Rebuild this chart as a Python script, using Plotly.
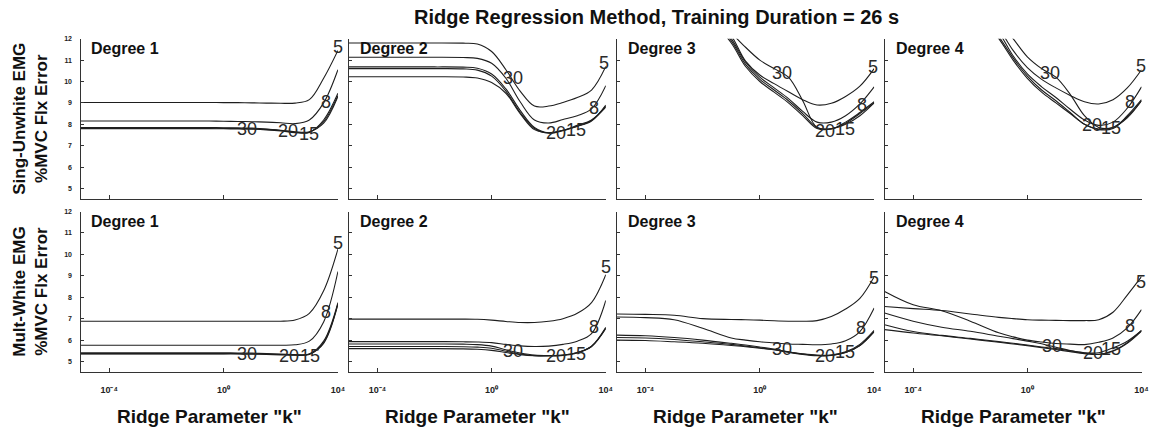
import plotly.graph_objects as go

# Ridge parameter grid (log10 k) shared by every curve
K_EXP = [-5, -4, -3, -2, -1, -0.5, 0, 0.5, 1, 1.5, 2, 2.5, 3, 3.5, 4]
K_TICKS = [1e-4, 1, 1e4]
K_TICK_TEXT = ["10\u207b\u2074", "10\u2070", "10\u2074"]
SERIES = ["5", "8", "15", "20", "30"]
DEGREES = [1, 2, 3, 4]

# %MVC flexion error, single-site unwhitened EMG
SU_DEG1 = {
    "5":  [9.02, 9.02, 9.02, 9.02, 9.02, 9.02, 9.01, 9.01, 9.0, 8.99, 8.98, 8.99, 9.15, 10.15, 11.45],
    "8":  [8.15, 8.15, 8.15, 8.15, 8.15, 8.15, 8.14, 8.13, 8.12, 8.1, 8.07, 8.03, 8.2, 9.0, 10.55],
    "15": [7.79, 7.79, 7.79, 7.79, 7.79, 7.79, 7.79, 7.78, 7.77, 7.74, 7.69, 7.61, 7.62, 8.2, 9.45],
    "20": [7.81, 7.81, 7.81, 7.81, 7.81, 7.81, 7.81, 7.8, 7.79, 7.76, 7.71, 7.63, 7.63, 8.12, 9.35],
    "30": [7.85, 7.85, 7.85, 7.85, 7.85, 7.85, 7.84, 7.83, 7.82, 7.78, 7.72, 7.65, 7.65, 8.05, 9.3],
}
SU_DEG2 = {
    "5":  [11.8, 11.8, 11.8, 11.8, 11.79, 11.75, 11.4, 10.55, 9.55, 8.85, 8.85, 9.02, 9.25, 9.6, 10.7],
    "8":  [11.13, 11.13, 11.13, 11.13, 11.12, 11.08, 10.85, 10.15, 9.05, 8.2, 8.06, 8.22, 8.4, 8.72, 9.8],
    "15": [10.68, 10.68, 10.68, 10.68, 10.67, 10.62, 10.35, 9.65, 8.65, 7.85, 7.6, 7.72, 7.95, 8.2, 8.85],
    "20": [10.6, 10.6, 10.6, 10.6, 10.59, 10.53, 10.25, 9.55, 8.55, 7.8, 7.58, 7.7, 7.92, 8.18, 8.8],
    "30": [10.22, 10.22, 10.22, 10.22, 10.21, 10.16, 9.95, 9.45, 8.5, 7.75, 7.6, 7.72, 7.9, 8.15, 8.9],
}
SU_DEG3 = {
    "5":  [19.3, 17.5, 15.7, 13.9, 12.15, 10.95, 10.3, 9.9, 9.52, 9.15, 8.9, 8.98, 9.3, 9.78, 10.6],
    "8":  [19.0, 17.2, 15.4, 13.7, 12.0, 10.9, 10.2, 9.7, 9.2, 8.6, 8.1, 8.1, 8.4, 8.95, 9.75],
    "15": [18.6, 16.8, 15.0, 13.4, 11.8, 10.7, 10.0, 9.5, 9.0, 8.4, 7.8, 7.78, 8.1, 8.55, 9.05],
    "20": [18.8, 17.0, 15.2, 13.5, 11.9, 10.8, 10.1, 9.6, 9.1, 8.5, 7.85, 7.78, 8.05, 8.5, 9.0],
    "30": [19.8, 18.0, 16.2, 14.3, 12.3, 11.6, 11.0, 10.6, 10.2, 9.1, 7.85, 7.8, 8.0, 8.4, 9.0],
}
SU_DEG4 = {
    "5":  [19.8, 17.9, 16.1, 14.3, 12.5, 11.45, 10.65, 10.1, 9.7, 9.35, 9.05, 8.95, 9.15, 9.7, 10.55],
    "8":  [19.5, 17.6, 15.8, 14.0, 12.3, 11.2, 10.35, 9.75, 9.25, 8.7, 8.2, 7.95, 8.1, 8.75, 9.75],
    "15": [19.1, 17.2, 15.4, 13.7, 12.0, 11.0, 10.15, 9.5, 9.0, 8.5, 8.0, 7.75, 7.8, 8.4, 9.15],
    "20": [19.3, 17.4, 15.6, 13.8, 12.1, 11.1, 10.25, 9.6, 9.1, 8.55, 8.0, 7.78, 7.85, 8.35, 9.1],
    "30": [20.3, 18.4, 16.6, 14.7, 12.8, 12.0, 11.15, 10.6, 10.2, 9.4, 8.4, 7.85, 7.85, 8.3, 9.1],
}

# %MVC flexion error, multi-site whitened EMG
MW_DEG1 = {
    "5":  [6.88, 6.88, 6.88, 6.88, 6.88, 6.88, 6.88, 6.88, 6.88, 6.88, 6.88, 6.94, 7.25, 8.3, 10.25],
    "8":  [5.76, 5.76, 5.76, 5.76, 5.76, 5.76, 5.76, 5.76, 5.76, 5.76, 5.76, 5.78, 5.95, 6.85, 9.2],
    "15": [5.37, 5.37, 5.37, 5.37, 5.37, 5.37, 5.37, 5.37, 5.36, 5.35, 5.33, 5.31, 5.35, 5.95, 7.75],
    "20": [5.35, 5.35, 5.35, 5.35, 5.35, 5.35, 5.35, 5.35, 5.34, 5.33, 5.31, 5.29, 5.33, 5.88, 7.7],
    "30": [5.41, 5.41, 5.41, 5.41, 5.41, 5.41, 5.41, 5.4, 5.39, 5.37, 5.35, 5.32, 5.35, 5.85, 7.68],
}
MW_DEG2 = {
    "5":  [6.98, 6.98, 6.98, 6.98, 6.98, 6.97, 6.93, 6.87, 6.82, 6.82, 6.88, 7.0, 7.25, 7.75, 9.05],
    "8":  [5.93, 5.93, 5.93, 5.93, 5.92, 5.91, 5.88, 5.8, 5.73, 5.7, 5.72, 5.8, 5.95, 6.3, 7.85],
    "15": [5.82, 5.82, 5.82, 5.82, 5.81, 5.79, 5.72, 5.55, 5.4, 5.3, 5.28, 5.3, 5.42, 5.72, 6.6],
    "20": [5.7, 5.7, 5.7, 5.7, 5.69, 5.67, 5.62, 5.48, 5.35, 5.27, 5.26, 5.28, 5.4, 5.7, 6.55],
    "30": [5.6, 5.6, 5.6, 5.6, 5.59, 5.57, 5.52, 5.42, 5.32, 5.27, 5.27, 5.3, 5.42, 5.7, 6.55],
}
MW_DEG3 = {
    "5":  [7.22, 7.2, 7.16, 7.0, 6.96, 6.95, 6.93, 6.9, 6.88, 6.88, 6.91, 7.1, 7.45, 7.95, 8.96],
    "8":  [7.08, 7.05, 6.95, 6.55, 6.1, 6.0, 5.92, 5.87, 5.82, 5.8, 5.78, 5.82, 5.97, 6.4, 7.5],
    "15": [6.23, 6.2, 6.12, 6.0, 5.85, 5.77, 5.68, 5.58, 5.45, 5.35, 5.28, 5.3, 5.45, 5.8, 6.45],
    "20": [6.12, 6.1, 6.03, 5.92, 5.8, 5.72, 5.64, 5.55, 5.43, 5.33, 5.27, 5.28, 5.42, 5.75, 6.4],
    "30": [6.0, 5.98, 5.92, 5.85, 5.75, 5.69, 5.62, 5.55, 5.45, 5.36, 5.3, 5.3, 5.42, 5.75, 6.4],
}
MW_DEG4 = {
    "5":  [7.57, 7.47, 7.38, 7.22, 7.06, 7.0, 6.95, 6.93, 6.92, 6.91, 6.91, 6.95, 7.3, 8.1, 8.96],
    "8":  [8.27, 7.65, 7.37, 6.88, 6.34, 6.15, 6.0, 5.91, 5.84, 5.81, 5.79, 5.9, 6.1, 6.57, 7.42],
    "15": [6.72, 6.4, 6.22, 6.08, 5.93, 5.85, 5.77, 5.68, 5.6, 5.5, 5.4, 5.34, 5.5, 5.88, 6.45],
    "20": [6.49, 6.33, 6.2, 6.05, 5.9, 5.82, 5.74, 5.65, 5.56, 5.46, 5.37, 5.33, 5.48, 5.85, 6.42],
    "30": [7.26, 6.88, 6.6, 6.41, 6.18, 6.07, 5.95, 5.83, 5.67, 5.51, 5.41, 5.41, 5.64, 5.95, 6.45],
}

ROWS = [
    ("Sing-Unwhite EMG<br>%MVC Flx Error", [SU_DEG1, SU_DEG2, SU_DEG3, SU_DEG4]),
    ("Mult-White EMG<br>%MVC Flx Error", [MW_DEG1, MW_DEG2, MW_DEG3, MW_DEG4]),
]

# Inline curve-label anchors (log10 k, error) for each panel, row-major
LABEL_POS = [
    {"5": (3.99, 11.61), "8": (3.6, 9.06), "30": (0.81, 7.78), "20": (2.27, 7.69), "15": (3.0, 7.55)},
    {"5": (3.95, 10.87), "8": (3.57, 8.76), "30": (0.76, 10.18), "20": (2.27, 7.6), "15": (2.97, 7.75)},
    {"5": (3.96, 10.69), "8": (3.56, 8.91), "30": (0.77, 10.41), "20": (2.28, 7.67), "15": (2.98, 7.78)},
    {"5": (3.98, 10.72), "8": (3.58, 9.06), "30": (0.8, 10.41), "20": (2.25, 7.98), "15": (2.94, 7.83)},
    {"5": (3.99, 10.51), "8": (3.6, 7.31), "30": (0.82, 5.33), "20": (2.29, 5.25), "15": (3.02, 5.25)},
    {"5": (3.99, 9.43), "8": (3.6, 6.6), "30": (0.76, 5.49), "20": (2.27, 5.25), "15": (2.97, 5.33)},
    {"5": (3.99, 8.88), "8": (3.55, 6.57), "30": (0.77, 5.57), "20": (2.28, 5.25), "15": (2.98, 5.45)},
    {"5": (3.99, 8.73), "8": (3.58, 6.65), "30": (0.85, 5.72), "20": (2.3, 5.41), "15": (2.94, 5.57)},
]

K = [10.0 ** e for e in K_EXP]

W, H = 1156, 428
COL_PX = [(81, 340), (351, 609.5), (620.7, 879.5), (890, 1148.5)]
ROW_PX = [(35, 197), (209.5, 371.7)]
FONT = "Liberation Sans, Arial, sans-serif"
INK = "#1e1e1e"
AXIS = "#333333"

fig = go.Figure()
annotations = []
layout_axes = {}

n = 0
for r, (ytitle, panels) in enumerate(ROWS):
    top, bot = ROW_PX[r]
    for c, data in enumerate(panels):
        n += 1
        left, right = COL_PX[c]
        xa = "x" if n == 1 else f"x{n}"
        ya = "y" if n == 1 else f"y{n}"
        for s in SERIES:
            fig.add_trace(go.Scatter(
                x=K, y=data[s], xaxis=xa, yaxis=ya, mode="lines",
                line=dict(color=INK, width=1.1, shape="spline", smoothing=1.0),
                showlegend=False, hoverinfo="skip", name=s,
            ))
        layout_axes[f"xaxis{n}"] = dict(
            domain=[left / W, right / W], anchor=ya, type="log", range=[-5, 4],
            tickvals=K_TICKS, ticktext=K_TICK_TEXT,
            showticklabels=(r == 1), ticks="inside", ticklen=4, tickwidth=1,
            tickcolor=AXIS, showline=True, linecolor=AXIS, linewidth=1.3,
            showgrid=False, zeroline=False, ticklabelstandoff=9,
            tickfont=dict(size=9, family=FONT, color="#222", weight="bold"),
        )
        layout_axes[f"yaxis{n}"] = dict(
            domain=[1 - bot / H, 1 - top / H], anchor=xa, range=[4.5, 12],
            tickvals=[5, 6, 7, 8, 9, 10, 11, 12],
            showticklabels=(c == 0), ticks="inside", ticklen=3, tickwidth=1,
            tickcolor=AXIS, showline=True, linecolor=AXIS, linewidth=1.3,
            showgrid=False, zeroline=False, ticklabelstandoff=6,
            tickfont=dict(size=7, family=FONT, color="#222", weight="bold"),
        )
        # panel heading
        annotations.append(dict(
            text=f"Degree {DEGREES[c]}", xref="paper", yref="paper",
            x=(left + 9) / W, y=1 - (top + 10) / H, xanchor="left", yanchor="middle",
            showarrow=False, font=dict(size=16, family=FONT, color="#111", weight="bold"),
        ))
        # inline series labels
        for s, (lx, ly) in LABEL_POS[n - 1].items():
            annotations.append(dict(
                text=s, xref=xa, yref=ya, x=lx, y=ly, showarrow=False,
                xanchor="center", yanchor="middle",
                font=dict(size=18, family=FONT, color="#2a2a2a"),
            ))
        if r == 1:
            annotations.append(dict(
                text='Ridge Parameter "k"', xref="paper", yref="paper",
                x=(left + right) / 2 / W, y=1 - 416.5 / H, xanchor="center", yanchor="middle",
                showarrow=False, font=dict(size=19, family=FONT, color="#111", weight="bold"),
            ))
    annotations.append(dict(
        text=ytitle, xref="paper", yref="paper", textangle=-90,
        x=31 / W, y=1 - (top + bot) / 2 / H, xanchor="center", yanchor="middle",
        showarrow=False, font=dict(size=17, family=FONT, color="#111", weight="bold"),
    ))

annotations.append(dict(
    text="Ridge Regression Method, Training Duration = 26 s", xref="paper", yref="paper",
    x=660 / W, y=1 - 13 / H, xanchor="center", yanchor="middle", showarrow=False,
    font=dict(size=20, family=FONT, color="#111", weight="bold"),
))

fig.update_layout(
    width=W, height=H, margin=dict(l=0, r=0, t=0, b=0),
    paper_bgcolor="white", plot_bgcolor="white",
    annotations=annotations, **layout_axes,
)

fig.write_html("out.html")
